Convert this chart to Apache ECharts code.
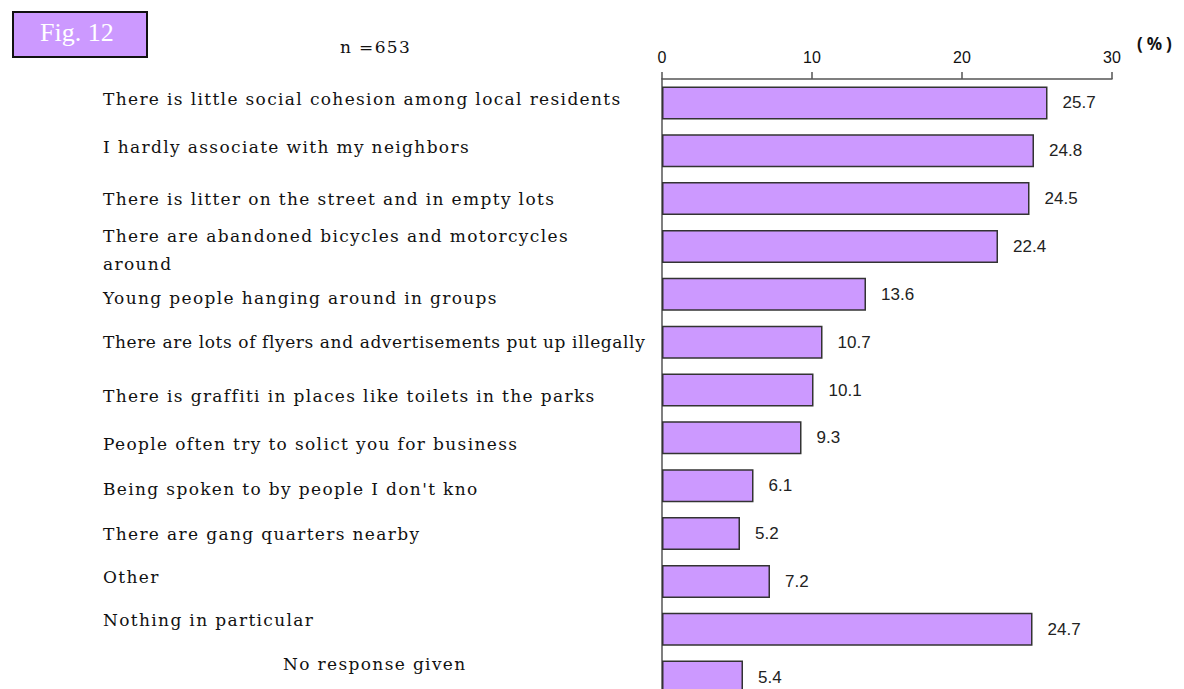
<!DOCTYPE html>
<html>
<head>
<meta charset="utf-8">
<script src="https://cdn.jsdelivr.net/npm/echarts@6/dist/echarts.min.js"></script>
<style>
html,body{margin:0;padding:0;background:#fff;overflow:hidden;}
#chart{width:1184px;height:712px;}
text[style*="DejaVu"]{letter-spacing:1.35px;}
text[style*="DejaVu"][style*="Liberation Serif"]{letter-spacing:0.6px;}
text[style*="Noto Sans"]{letter-spacing:4px;}
</style>
</head>
<body>
<div id="chart"></div>
<script>
var categories = [
  'There is little social cohesion among local residents',
  'I hardly associate with my neighbors',
  'There is litter on the street and in empty lots',
  'There are abandoned bicycles and motorcycles\naround',
  'Young people hanging around in groups',
  'There are lots of flyers and advertisements put up illegally',
  'There is graffiti in places like toilets in the parks',
  'People often try to solict you for business',
  "Being spoken to by people I don't kno",
  'There are gang quarters nearby',
  'Other',
  'Nothing in particular',
  'No response given'
];
var values = [25.7, 24.8, 24.5, 22.4, 13.6, 10.7, 10.1, 9.3, 6.1, 5.2, 7.2, 24.7, 5.4];
var xTicks = [0, 10, 20, 30];

var chart = echarts.init(document.getElementById('chart'), null, { renderer: 'svg' });
var serif = '"DejaVu Serif", serif';
var serifTight = '"DejaVu Serif", "Liberation Serif", serif';
var sans = '"Liberation Sans", Arial, sans-serif';

// label layout styles (vertical nudge in px: negative = up), by row
function labelStyle(i) {
  var nudge = { 0: -4, 1: -4, 3: 4, 4: 4, 6: 6, 7: 6, 8: 3, 10: -4, 11: -9, 12: -13 }[i] || 0;
  var st = { fontFamily: i === 5 ? serifTight : serif, fontSize: 17, color: '#111', lineHeight: 28 };
  var left = i === 12 ? 180 : 0;
  st.padding = nudge < 0 ? [0, 0, -2 * nudge, left] : [2 * nudge, 0, 0, left];
  return st;
}
var rich = {};
categories.forEach(function (c, i) { rich['r' + i] = labelStyle(i); });

chart.setOption({
  animation: false,
  backgroundColor: '#fff',
  grid: { left: 662, right: 72, top: 79, height: 622, containLabel: false },
  xAxis: {
    type: 'value',
    position: 'top',
    min: xTicks[0],
    max: xTicks[xTicks.length - 1],
    interval: xTicks[1] - xTicks[0],
    axisLine: { show: true, lineStyle: { color: '#555', width: 1.5 } },
    axisTick: { show: true, length: 7, lineStyle: { color: '#555', width: 1.5 } },
    axisLabel: { margin: 14, fontFamily: sans, fontSize: 16, color: '#111' },
    splitLine: { show: false }
  },
  yAxis: {
    type: 'category',
    inverse: true,
    data: categories,
    axisLine: { show: true, lineStyle: { color: '#555', width: 1.5 } },
    axisTick: { show: false },
    axisLabel: {
      align: 'left',
      margin: 559,
      fontFamily: serif,
      fontSize: 17,
      color: '#111',
      lineHeight: 28,
      formatter: function (v, i) { return '{r' + i + '|' + v + '}'; },
      rich: rich
    }
  },
  series: [{
    type: 'bar',
    data: values,
    barWidth: 33,
    itemStyle: { color: '#cc99ff', borderColor: '#333', borderWidth: 1.5 },
    label: {
      show: true,
      position: 'right',
      distance: 15,
      fontFamily: sans,
      fontSize: 17,
      color: '#222',
      formatter: function (p) { return p.value.toFixed(1); }
    }
  }],
  graphic: [
    {
      type: 'rect',
      left: 12, top: 11,
      shape: { width: 134, height: 45 },
      style: { fill: '#cc99ff', stroke: '#111', lineWidth: 2 }
    },
    {
      type: 'text',
      left: 40, top: 19,
      style: { text: 'Fig. 12', fill: '#fff', font: '26px "Liberation Serif", serif' }
    },
    {
      type: 'text',
      left: 340, top: 38,
      style: { text: 'n =653', fill: '#111', font: '17px "DejaVu Serif", serif' }
    },
    {
      type: 'text',
      left: 1137, top: 35,
      style: { text: '(%)', fill: '#111', font: 'bold 17px "Noto Sans", sans-serif' }
    }
  ]
});
</script>
</body>
</html>
